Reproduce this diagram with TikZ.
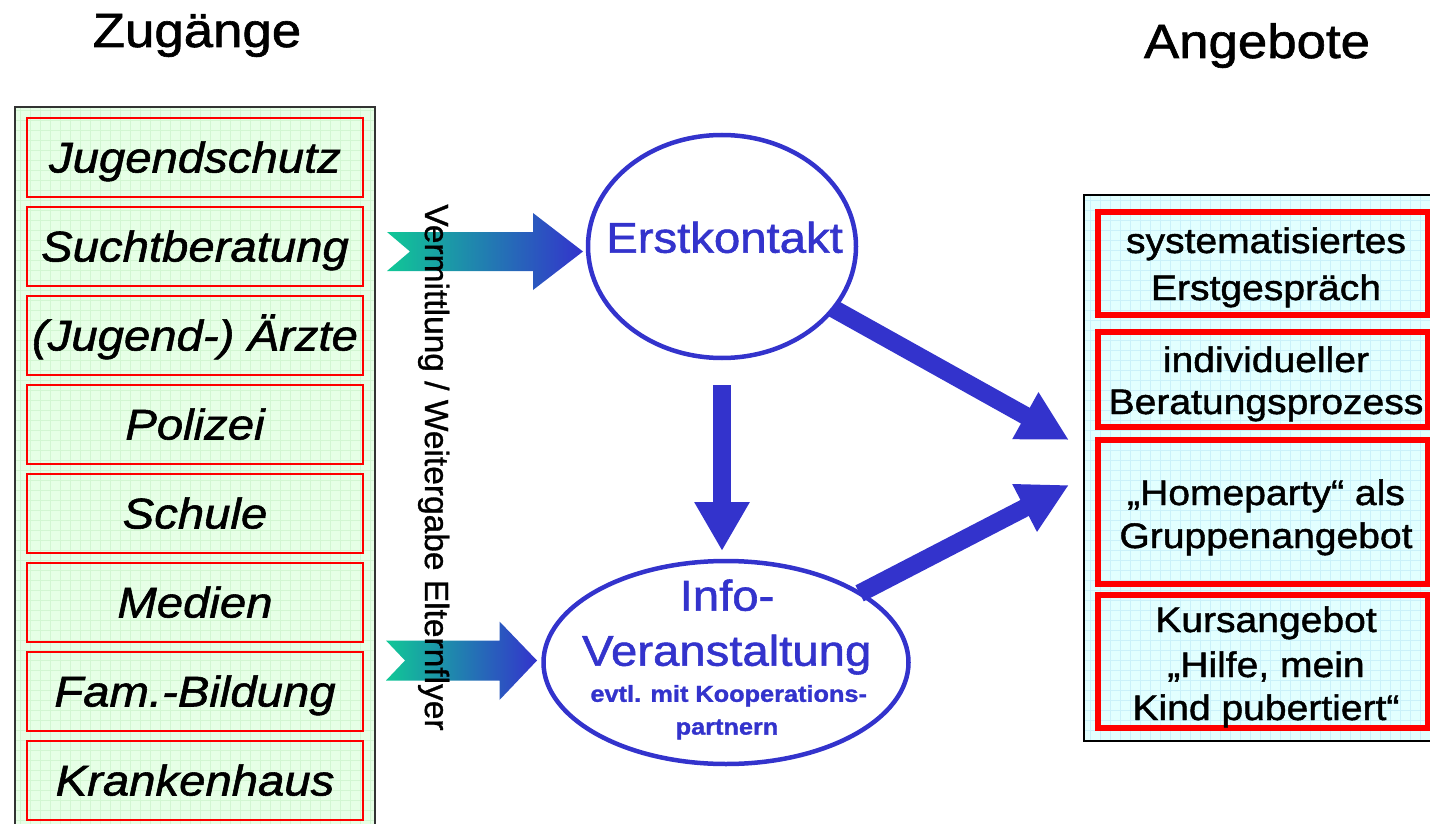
\documentclass[tikz,border=0pt]{standalone}
\usepackage{fontspec}
\setmainfont{Liberation Sans}
\newfontfamily\arx[FakeStretch=1.1,FakeBold=1.3]{Liberation Sans}
\newfontfamily\arv[FakeBold=1.0]{Liberation Sans}
\usetikzlibrary{shapes.geometric, arrows.meta}
\definecolor{myblue}{RGB}{51,51,204}
\definecolor{myteal}{RGB}{16,200,150}
\definecolor{pgreen}{RGB}{230,255,230}
\definecolor{ggreen}{RGB}{210,246,210}
\definecolor{pcyan}{RGB}{226,255,255}
\definecolor{gcyan}{RGB}{202,241,250}
\definecolor{myred}{RGB}{255,0,0}
\tikzset{
  zbox/.style={draw=myred, line width=2pt, minimum width=336pt, minimum height=79pt,
    inner sep=0pt, outer sep=0pt, text height=30pt, text depth=0pt,
    font=\arx\itshape\fontsize{43}{50}\selectfont},
  abox/.style={draw=myred, line width=6pt, inner sep=0pt, outer sep=0pt, minimum width=330.5pt},
  rtext/.style={font=\arx\fontsize{35.5}{40}\selectfont, anchor=base, inner sep=0pt},
  title/.style={font=\arx\fontsize{48}{55}\selectfont, anchor=base, inner sep=0pt},
  etext/.style={font=\arx\fontsize{43}{50}\selectfont, text=myblue, anchor=base, inner sep=0pt},
  esmall/.style={font=\arx\bfseries\fontsize{23}{26}\selectfont, text=myblue, anchor=base, inner sep=0pt},
  oval/.style={ellipse, draw=myblue, line width=4.5pt, inner sep=0pt, outer sep=0pt},
  bigarrow/.style={draw=myblue, line width=18pt, -{Triangle[length=50pt,width=50pt]}},
  gradarrow/.style={left color=myteal, right color=myblue},
}
\begin{document}
\begin{tikzpicture}[x=1pt,y=-1pt]
\useasboundingbox (0,0) rectangle (1430,824);
\clip (0,0) rectangle (1430,824);

% titles
\node[title] (tz) at (197,47) {Zugänge};
\node[title] (ta) at (1257,58) {Angebote};

% left panel
\node[draw=black!80, line width=1.5pt, fill=pgreen, inner sep=0pt, outer sep=0pt,
      minimum width=360pt, minimum height=733pt] (lp) at (195,473.5) {};
\begin{scope}
  \clip (15,107) rectangle (375,840);
  \draw[ggreen, line width=0.5pt, step=10pt] (15,107) grid (375,840);
\end{scope}
\draw[draw=black!80, line width=1.5pt] (15,840) -- (15,107) -- (375,107) -- (375,840);

\node[zbox] (z1) at (195,157.5) {Jugendschutz};
\node[zbox] (z2) at (195,246.5) {Suchtberatung};
\node[zbox] (z3) at (195,335.5) {(Jugend-) Ärzte};
\node[zbox] (z4) at (195,424.5) {Polizei};
\node[zbox] (z5) at (195,513.5) {Schule};
\node[zbox] (z6) at (195,602.5) {Medien};
\node[zbox] (z7) at (195,691.5) {Fam.-Bildung};
\node[zbox] (z8) at (195,780.5) {Krankenhaus};

% right panel
\node[fill=pcyan, inner sep=0pt, outer sep=0pt,
      minimum width=361pt, minimum height=546pt] (ang) at (1264.5,468) {};
\begin{scope}
  \clip (1084,195) rectangle (1445,741);
  \draw[gcyan, line width=0.5pt, step=10pt] (1084,195) grid (1445,741);
\end{scope}
\draw[black, line width=2pt] (1445,195) -- (1084,195) -- (1084,741) -- (1445,741);

\node[abox, minimum height=103pt] (a1) at (1262.75,263.5) {};
\node[abox, minimum height=95pt] (a2) at (1262.75,379.5) {};
\node[abox, minimum height=144pt] (a3) at (1262.75,512) {};
\node[abox, minimum height=133pt] (a4) at (1262.75,661.5) {};

\node[rtext] (a1l1) at (1266,253) {systematisiertes};
\node[rtext] (a1l2) at (1266,300) {Erstgespräch};
\node[rtext] (a2l1) at (1266,372) {individueller};
\node[rtext] (a2l2) at (1266,414) {Beratungsprozess};
\node[rtext] (a3l1) at (1266,505) {„Homeparty“ als};
\node[rtext] (a3l2) at (1266,548) {Gruppenangebot};
\node[rtext] (a4l1) at (1266,632) {Kursangebot};
\node[rtext] (a4l2) at (1266,677) {„Hilfe, mein};
\node[rtext] (a4l3) at (1266,720) {Kind pubertiert“};

% gradient arrows
\shade[gradarrow] (387,232) -- (533,232) -- (533,213) -- (583,251.5) -- (533,290)
   -- (533,271) -- (387,271) -- (410,251.5) -- cycle;
\shade[gradarrow] (386,640.5) -- (499.5,640.5) -- (499.5,621.5) -- (537,660.5)
   -- (499.5,700) -- (499.5,680.5) -- (386,680.5) -- (405,660.5) -- cycle;

% vertical text
\node[rotate=-90, anchor=base, font=\arv\fontsize{33.5}{40}\selectfont, inner sep=0pt] (vt)
  at (425,467.5) {Vermittlung / Weitergabe Elternflyer};

% ellipses
\node[oval, minimum width=268pt, minimum height=223pt] (ek) at (722,246.5) {};
\node[oval, minimum width=365pt, minimum height=203pt] (info) at (726,662.5) {};

\node[etext] (ekt) at (724.5,252.7) {Erstkontakt};
\node[etext] (in1) at (727,610.6) {Info-};
\node[etext] (in2) at (726.7,665.7) {Veranstaltung};
\node[esmall] (in3) at (728.7,701.8) {evtl. mit Kooperations-};
\node[esmall] (in4) at (727,734.6) {partnern};

% blue arrows
\coordinate (t1) at (1069,440);
\coordinate (t2) at (1069,485);
\draw[bigarrow] (ek) -- (t1);
\draw[bigarrow] (info) -- (t2);
\draw[draw=myblue, line width=18pt, -{Triangle[length=49pt,width=52pt]},
      shorten <=27pt, shorten >=10pt] (ek.south) -- (ek.south |- info.north);
\end{tikzpicture}
\end{document}
